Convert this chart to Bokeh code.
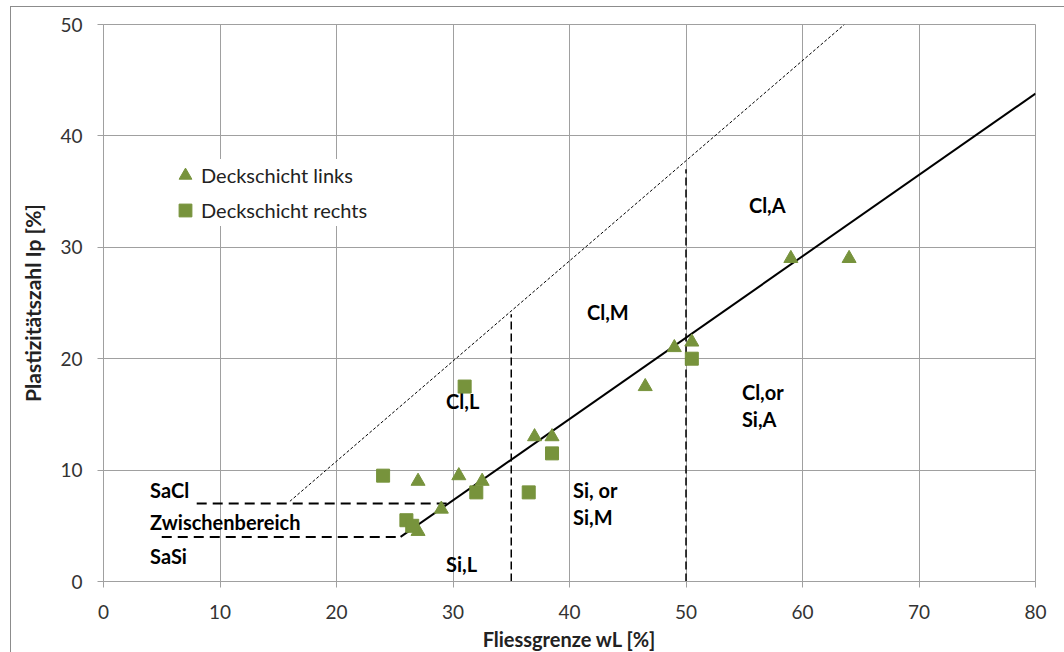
from bokeh.plotting import figure
from bokeh.models import Legend, LegendItem, FixedTicker, Range1d
from bokeh.embed import file_html
from bokeh.resources import INLINE
from bokeh.core.properties import value

# ---- data ----
links_wl = [27, 27, 29, 30.5, 32.5, 37, 38.5, 46.5, 49, 50.5, 59, 64]
links_ip = [4.5, 9, 6.5, 9.5, 9, 13, 13, 17.5, 21, 21.5, 29, 29]
rechts_wl = [24, 26, 26.5, 31, 32, 36.5, 38.5, 50.5]
rechts_ip = [9.5, 5.5, 5, 17.5, 8, 8, 11.5, 20]

a_line_wl = [25.5, 80]
a_line_ip = [4, 43.8]
u_line_wl = [16, 63.6]
u_line_ip = [7.2, 50]

sacl_wl = [8, 29.6]
sacl_ip = [7, 7]
sasi_wl = [5, 25.5]
sasi_ip = [4, 4]
b35_wl = [35, 35]
b35_ip = [0, 24]
b50_wl = [50, 50]
b50_ip = [0, 37]

zone_labels = ["SaCl", "Zwischenbereich", "SaSi", "Cl,L", "Si,L", "Cl,M",
               "Si, or", "Si,M", "Cl,A", "Cl,or", "Si,A"]
zone_wl = [4.0, 4.0, 4.0, 29.4, 29.4, 41.5, 40.3, 40.3, 55.4, 54.8, 54.8]
zone_ip = [8.2, 5.3, 2.3, 16.2, 1.6, 24.2, 8.2, 5.8, 33.8, 17.0, 14.6]

x_ticks = [0, 10, 20, 30, 40, 50, 60, 70, 80]
y_ticks = [0, 10, 20, 30, 40, 50]

GREEN = "#77933C"
GRID = "#a0a0a0"
TXT = "#333333"
FONT = "Lato"

p = figure(frame_width=932, frame_height=557, output_backend="svg", toolbar_location=None,
           x_range=Range1d(0, 80), y_range=Range1d(0, 50),
           min_border_left=92, min_border_right=29, min_border_top=17, min_border_bottom=71)
p.styles = {"margin-left": "10px", "margin-top": "6px",
            "border-left": "1px solid #8c8c8c", "border-top": "1px solid #8c8c8c"}

p.outline_line_color = GRID
p.background_fill_color = "white"
p.border_fill_color = "white"

p.xaxis.axis_label = "Fliessgrenze wL [%]"
p.yaxis.axis_label = "Plastizitätszahl Ip [%]"

for ax, ticks in ((p.xaxis[0], x_ticks), (p.yaxis[0], y_ticks)):
    ax.ticker = FixedTicker(ticks=ticks)
    ax.axis_line_color = GRID
    ax.major_tick_line_color = GRID
    ax.major_tick_out = 6
    ax.major_tick_in = 0
    ax.minor_tick_line_color = None
    ax.major_label_text_font = FONT
    ax.major_label_text_font_size = "19px"
    ax.major_label_text_color = TXT
    ax.axis_label_text_font = FONT
    ax.axis_label_text_font_style = "bold"
    ax.axis_label_text_color = "#222222"

p.xaxis[0].axis_label_text_font_size = "20px"
p.yaxis[0].axis_label_text_font_size = "21px"
p.xaxis[0].major_label_standoff = 17
p.xaxis[0].axis_label_standoff = 5
p.yaxis[0].major_label_standoff = 15
p.yaxis[0].axis_label_standoff = 12

p.xgrid.ticker = FixedTicker(ticks=x_ticks)
p.ygrid.ticker = FixedTicker(ticks=y_ticks)
p.grid.grid_line_color = GRID
p.grid.grid_line_width = 1

# reference lines
p.line(u_line_wl, u_line_ip, line_color="black", line_width=1, line_dash="3 2")
p.line(a_line_wl, a_line_ip, line_color="black", line_width=2)
p.line(sacl_wl, sacl_ip, line_color="black", line_width=2, line_dash="10 6")
p.line(sasi_wl, sasi_ip, line_color="black", line_width=2, line_dash="10 6")
p.line(b35_wl, b35_ip, line_color="black", line_width=1.5, line_dash="8 4")
p.line(b50_wl, b50_ip, line_color="black", line_width=1.5, line_dash="8 4")

# zone labels
p.text(x=zone_wl, y=zone_ip, text=zone_labels, text_font=value(FONT),
       text_font_size="20px", text_font_style="bold", text_color="black",
       text_align="left", text_baseline="middle")

# data points
r_links = p.scatter(links_wl, links_ip, marker="triangle", size=14,
                    fill_color=GREEN, line_color=GREEN)
r_rechts = p.scatter(rechts_wl, rechts_ip, marker="square", size=13,
                     fill_color=GREEN, line_color=GREEN)

legend = Legend(items=[LegendItem(label="Deckschicht links", renderers=[r_links]),
                       LegendItem(label="Deckschicht rechts", renderers=[r_rechts])],
                location=(66, 355), glyph_width=32, glyph_height=32,
                label_standoff=0, spacing=3, padding=5, margin=0,
                border_line_color=None, background_fill_color="white",
                background_fill_alpha=1.0,
                label_text_font=FONT, label_text_font_size="20px", label_text_color="#222222")
p.add_layout(legend, "center")

open("out.html", "w").write(file_html(p, INLINE))
